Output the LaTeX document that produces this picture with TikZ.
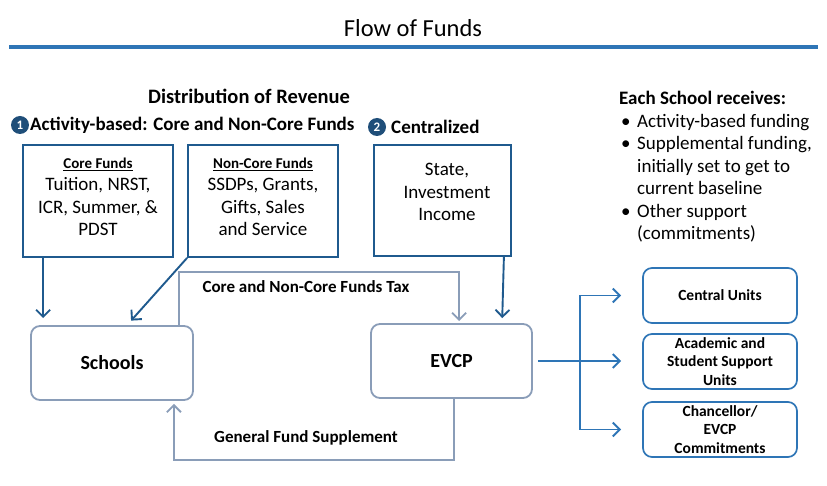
\documentclass[tikz,border=0pt]{standalone}
\usepackage{fontspec}
\setmainfont{Carlito}
\usetikzlibrary{arrows.meta, positioning, calc}
\definecolor{srcblue}{HTML}{1F5A8E}
\definecolor{flowgray}{HTML}{8A9DB8}
\definecolor{unitblue}{HTML}{2E75B6}
\definecolor{numblue}{HTML}{1F4E79}

\tikzset{
  srcbox/.style={draw=srcblue, line width=1.8pt, minimum width=150pt, minimum height=112pt},
  srctext/.style={align=center, font=\fontsize{19}{22.5}\selectfont},
  flowbox/.style={draw=flowgray, line width=1.8pt, rounded corners=9pt, minimum width=161pt, minimum height=74pt, font=\fontsize{20}{22}\selectfont\bfseries},
  unitbox/.style={draw=unitblue, line width=1.7pt, rounded corners=9pt, minimum width=154pt, minimum height=55pt, align=center, font=\fontsize{15.5}{18.5}\selectfont\bfseries},
  numdot/.style={circle, fill=numblue, text=white, inner sep=0pt, minimum size=18pt, font=\fontsize{13}{13}\selectfont\bfseries},
  heading/.style={font=\fontsize{19}{22}\selectfont\bfseries},
  flowlbl/.style={font=\fontsize{17}{20}\selectfont\bfseries},
  srcarrow/.style={draw=srcblue, line width=1.9pt, -{Straight Barb[length=7pt,width=14pt]}},
  flowarrow/.style={draw=flowgray, line width=1.9pt, -{Straight Barb[length=7pt,width=14pt]}},
  unitarrow/.style={draw=unitblue, line width=1.9pt, -{Straight Barb[length=7pt,width=14pt]}},
}

\begin{document}
\begin{tikzpicture}[x=1pt, y=-1pt]
  \useasboundingbox (0,0) rectangle (827,486);

  % title and rule
  \node[font=\fontsize{24.5}{28}\selectfont] (title) at (413,28) {Flow of Funds};
  \draw[unitblue, line width=3.5pt] (9,47) -- (818,47);

  % headings
  \node[heading, font=\fontsize{20.5}{24}\selectfont\bfseries] (distlbl) at (249,96) {Distribution of Revenue};
  \node[numdot] (num1) at (20,125) {1};
  \node[heading, anchor=west, inner sep=1pt] (actlbl) at (29,125) {Activity-based: Core and Non-Core Funds};
  \node[numdot] (num2) at (377,127) {2};
  \node[heading, anchor=west, inner sep=1pt] (centlbl) at (390,127) {Centralized};

  % sources of revenue
  \node[srcbox] (core) at (98,201) {};
  \node[srctext] (coretxt) at (98,197) {{\fontsize{15}{16}\selectfont\bfseries\underline{Core Funds}}\\Tuition, NRST,\\ICR, Summer, \&\\PDST};
  \node[srcbox] (noncore) at (263,201) {};
  \node[srctext] (noncoretxt) at (263,197) {{\fontsize{15}{16}\selectfont\bfseries\underline{Non-Core Funds}}\\SSDPs, Grants,\\Gifts, Sales\\and Service};
  \node[srcbox, minimum width=137pt, minimum height=111pt] (state) at (442.5,200.5) {};
  \node[srctext] (statetxt) at (447,192) {State,\\Investment\\Income};

  % what each school receives
  \node[anchor=north west, inner sep=0pt, font=\fontsize{19}{22.5}\selectfont] (recv) at (619,89) {%
    \begin{tabular}{@{}p{14pt}@{\hspace{4pt}}l@{}}
      \multicolumn{2}{@{}l@{}}{\bfseries Each School receives:}\\
      \hspace{2pt}\textbullet & Activity-based funding\\
      \hspace{2pt}\textbullet & Supplemental funding,\\
                  & initially set to get to\\
                  & current baseline\\
      \hspace{2pt}\textbullet & Other support\\
                  & (commitments)
    \end{tabular}};

  % schools and EVCP
  \node[flowbox, minimum width=162pt] (schools) at (112,363) {Schools};
  \node[flowbox] (evcp) at (451.5,361) {EVCP};

  % receiving units
  \node[unitbox] (central) at (720,295.5) {Central Units};
  \node[unitbox] (acad) at (720,361.5) {Academic and\\Student Support\\Units};
  \node[unitbox] (chanc) at (720,429.5) {Chancellor/\\EVCP\\Commitments};

  % revenue into schools and EVCP
  \draw[srcarrow, shorten >=7pt] ([xshift=21pt]core.south west) -- ([xshift=13pt]schools.north west);
  \draw[srcarrow, shorten >=6pt] (noncore.south west) -- ([xshift=97pt]schools.north west);
  \draw[srcarrow, shorten >=5pt] ([xshift=-8pt]state.south east) -- ([xshift=132pt]evcp.north west);

  % tax and supplement
  \draw[flowarrow, shorten >=2pt] ([xshift=-15pt]schools.north east) -- ++(0,-53) -| ([xshift=89pt]evcp.north west);
  \node[flowlbl] (taxlbl) at (306,287) {Core and Non-Core Funds Tax};
  \draw[flowarrow, shorten >=3pt] ([xshift=84pt]evcp.south west) -- ++(0,61) -| ([xshift=-20pt]schools.south east);
  \node[flowlbl] (supplbl) at (306,438) {General Fund Supplement};

  % EVCP to units
  \coordinate (split) at (580,361);
  \draw[unitblue, line width=1.9pt, shorten <=5pt] (evcp.east) -- (split);
  \draw[unitarrow, shorten >=21pt] (split) |- (central.west);
  \draw[unitarrow, shorten >=21pt] (split) -- (split -| acad.west);
  \draw[unitarrow, shorten >=21pt] (split) |- (chanc.west);
\end{tikzpicture}
\end{document}
